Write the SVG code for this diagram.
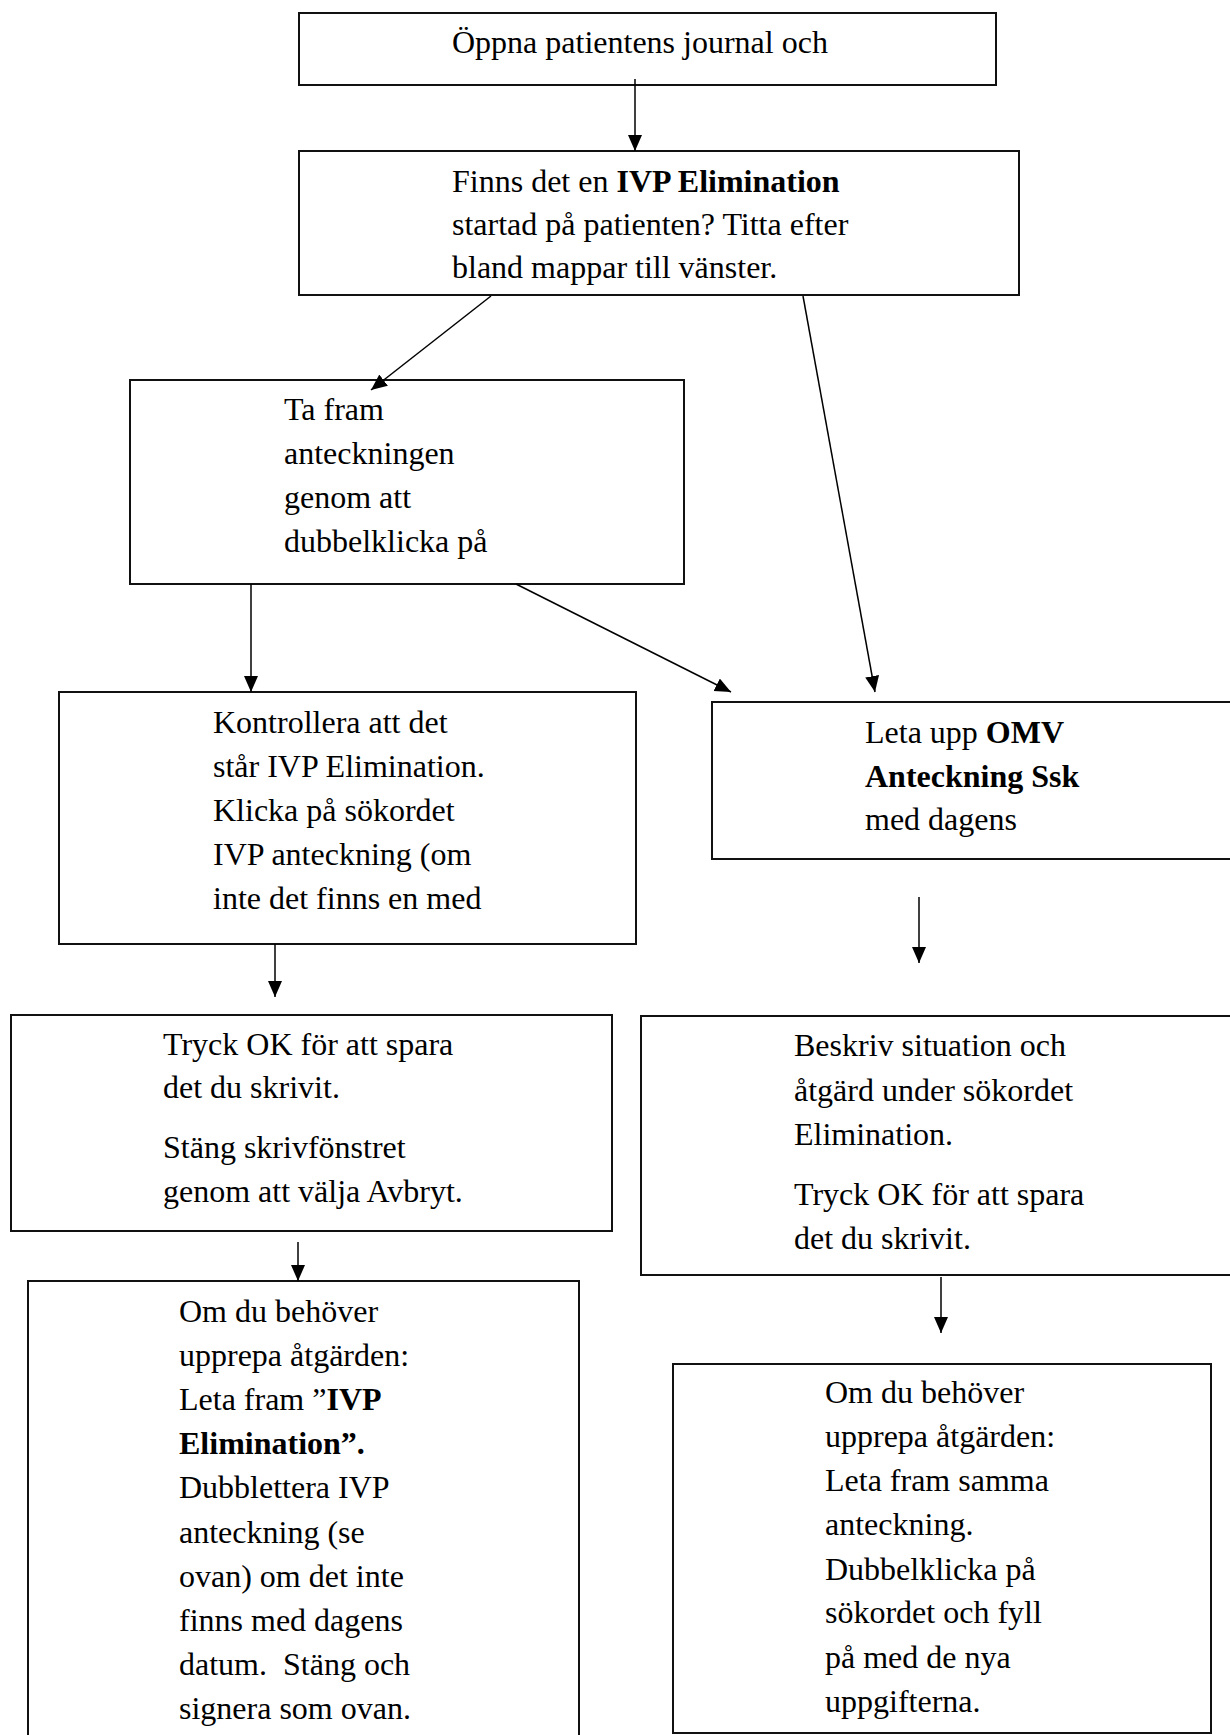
<svg xmlns="http://www.w3.org/2000/svg" width="1230" height="1735" viewBox="0 0 1230 1735">
<style>
  .box { fill: #ffffff; stroke: #111111; stroke-width: 2; }
  .t { font-family: "Liberation Serif", "Times New Roman", serif; font-size: 32px; fill: #000000; }
  .b { font-weight: bold; }
  .conn line { stroke: #000000; stroke-width: 1.5; fill: none; marker-end: url(#arr); }
</style>
<defs>
  <marker id="arr" markerUnits="userSpaceOnUse" markerWidth="17" markerHeight="15" refX="16" refY="7" orient="auto">
    <path d="M0,0 L16,7 L0,14 z" fill="#000000"/>
  </marker>
</defs>
<rect width="1230" height="1735" fill="#ffffff"/>

<g id="n1">
  <rect class="box" x="299" y="13" width="697" height="72"/>
  <text class="t" x="452" y="53">Öppna patientens journal och</text>
</g>
<g id="n2">
  <rect class="box" x="299" y="151" width="720" height="144"/>
  <text class="t" x="452" y="192">Finns det en <tspan class="b">IVP Elimination</tspan></text>
  <text class="t" x="452" y="235">startad på patienten? Titta efter</text>
  <text class="t" x="452" y="278">bland mappar till vänster.</text>
</g>
<g id="n3">
  <rect class="box" x="130" y="380" width="554" height="204"/>
  <text class="t" x="284" y="420">Ta fram</text>
  <text class="t" x="284" y="464">anteckningen</text>
  <text class="t" x="284" y="508">genom att</text>
  <text class="t" x="284" y="552">dubbelklicka på</text>
</g>
<g id="n4">
  <rect class="box" x="59" y="692" width="577" height="252"/>
  <text class="t" x="213" y="733">Kontrollera att det</text>
  <text class="t" x="213" y="777">står IVP Elimination.</text>
  <text class="t" x="213" y="821">Klicka på sökordet</text>
  <text class="t" x="213" y="865">IVP anteckning (om</text>
  <text class="t" x="213" y="909">inte det finns en med</text>
</g>
<g id="n5">
  <rect class="box" x="712" y="702" width="530" height="157"/>
  <text class="t" x="865" y="743">Leta upp <tspan class="b">OMV</tspan></text>
  <text class="t b" x="865" y="787">Anteckning Ssk</text>
  <text class="t" x="865" y="830">med dagens</text>
</g>
<g id="n6">
  <rect class="box" x="11" y="1015" width="601" height="216"/>
  <text class="t" x="163" y="1055">Tryck OK för att spara</text>
  <text class="t" x="163" y="1098">det du skrivit.</text>
  <text class="t" x="163" y="1158">Stäng skrivfönstret</text>
  <text class="t" x="163" y="1202">genom att välja Avbryt.</text>
</g>
<g id="n7">
  <rect class="box" x="641" y="1016" width="601" height="259"/>
  <text class="t" x="794" y="1056">Beskriv situation och</text>
  <text class="t" x="794" y="1101">åtgärd under sökordet</text>
  <text class="t" x="794" y="1145">Elimination.</text>
  <text class="t" x="794" y="1205">Tryck OK för att spara</text>
  <text class="t" x="794" y="1249">det du skrivit.</text>
</g>
<g id="n8">
  <rect class="box" x="28" y="1281" width="551" height="464"/>
  <text class="t" x="179" y="1322">Om du behöver</text>
  <text class="t" x="179" y="1366">upprepa åtgärden:</text>
  <text class="t" x="179" y="1410">Leta fram ”<tspan class="b">IVP</tspan></text>
  <text class="t b" x="179" y="1454">Elimination”.</text>
  <text class="t" x="179" y="1498">Dubblettera IVP</text>
  <text class="t" x="179" y="1543">anteckning (se</text>
  <text class="t" x="179" y="1587">ovan) om det inte</text>
  <text class="t" x="179" y="1631">finns med dagens</text>
  <text class="t" x="179" y="1675" xml:space="preserve">datum.  Stäng och</text>
  <text class="t" x="179" y="1719">signera som ovan.</text>
</g>
<g id="n9">
  <rect class="box" x="673" y="1364" width="538" height="369"/>
  <text class="t" x="825" y="1403">Om du behöver</text>
  <text class="t" x="825" y="1447">upprepa åtgärden:</text>
  <text class="t" x="825" y="1491">Leta fram samma</text>
  <text class="t" x="825" y="1535">anteckning.</text>
  <text class="t" x="825" y="1580">Dubbelklicka på</text>
  <text class="t" x="825" y="1623">sökordet och fyll</text>
  <text class="t" x="825" y="1668">på med de nya</text>
  <text class="t" x="825" y="1712">uppgifterna.</text>
</g>

<g id="connectors" class="conn">
  <line x1="635" y1="79" x2="635" y2="151"/>
  <line x1="491" y1="296" x2="371" y2="390"/>
  <line x1="803" y1="296" x2="875" y2="692"/>
  <line x1="251" y1="584" x2="251" y2="692"/>
  <line x1="516" y1="584" x2="731" y2="692"/>
  <line x1="275" y1="944" x2="275" y2="997"/>
  <line x1="919" y1="897" x2="919" y2="963"/>
  <line x1="298" y1="1242" x2="298" y2="1281"/>
  <line x1="941" y1="1277" x2="941" y2="1333"/>
</g>
</svg>
